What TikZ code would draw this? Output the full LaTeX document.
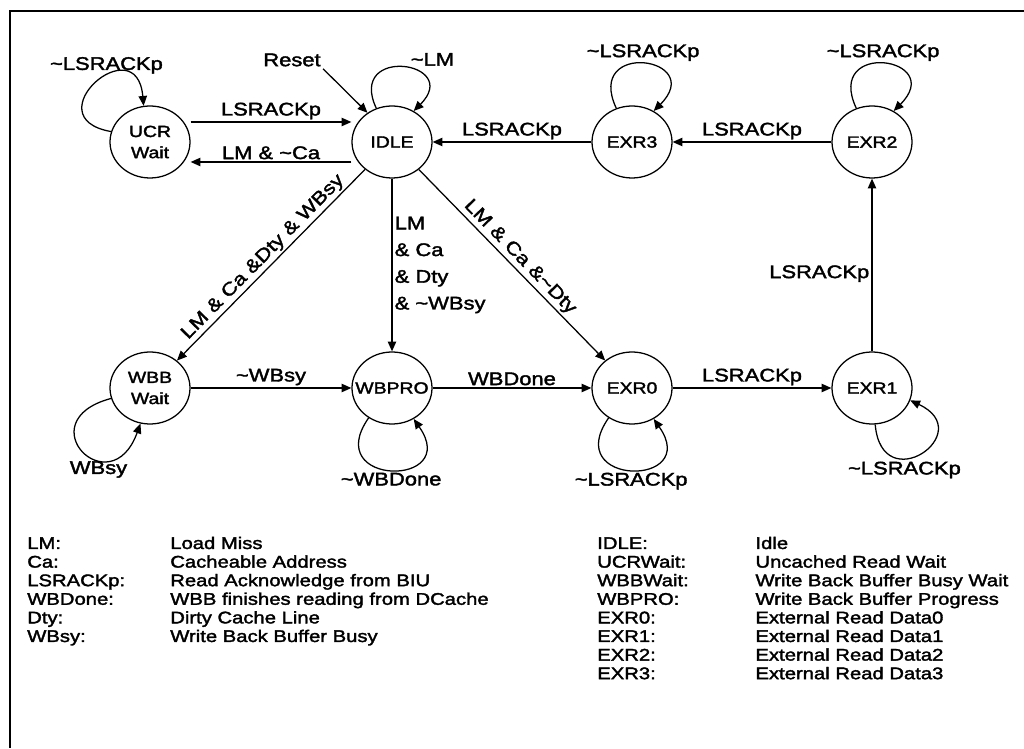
\documentclass[tikz,border=0pt]{standalone}
\usepackage{fontspec}
\setmainfont{Liberation Sans}[FakeStretch=1.2, FakeBold=2]
\usepackage{tikz}
\usetikzlibrary{arrows.meta,positioning,shapes.geometric}
\newcommand{\tld}{\textasciitilde}
\tikzset{
  stnode/.style ={draw, ellipse, line width=0.9pt, minimum width=2.0cm,
                  minimum height=1.8cm, inner xsep=-0.25cm, inner ysep=0pt,
                  align=center, font=\fontsize{11.5}{15}\selectfont},
  elbl/.style   ={font=\fontsize{13}{19}\selectfont, inner sep=1.5pt},
  arr/.style    ={-{Triangle[length=7pt,width=6pt]}, line width=0.9pt},
  keytxt/.style ={anchor=base west, inner sep=0pt,
                  font=\fontsize{12}{14}\selectfont},
}

\begin{document}
\begin{tikzpicture}[node distance=6.0cm, on grid]
  \useasboundingbox (0,0) rectangle (25.6,18.7);
  \draw[line width=1.2pt] (25.6,18.42) -| (0.25,0);
  % states
  \node[stnode] (idle) at (9.8,15.15) {IDLE};
  \node[stnode, left=6.05cm of idle] (ucr) {UCR\\Wait};
  \node[stnode, right=6.0cm of idle] (exr3) {EXR3};
  \node[stnode, right=6.0cm of exr3] (exr2) {EXR2};
  \node[stnode, below=6.15cm of idle] (wbpro) {WBPRO};
  \node[stnode, left=6.05cm of wbpro] (wbb) {WBB\\Wait};
  \node[stnode, right=6.0cm of wbpro] (exr0) {EXR0};
  \node[stnode, right=6.0cm of exr0] (exr1) {EXR1};
  \node[elbl] (reset) at (7.3,17.2) {Reset};
  % transitions
  \draw[arr] (reset.south east) -- (idle.130);
  \draw[arr] ([yshift=0.5cm]ucr.east) -- node[elbl, above] {LSRACKp} ([yshift=0.5cm]idle.west);
  \draw[arr] ([yshift=-0.5cm]idle.west) -- node[elbl, above] {LM \& \tld Ca} ([yshift=-0.5cm]ucr.east);
  \draw[arr] (exr3) -- node[elbl, above] {LSRACKp} (idle);
  \draw[arr] (exr2) -- node[elbl, above] {LSRACKp} (exr3);
  \draw[arr] (exr1) -- node[elbl, left, pos=0.45] {LSRACKp} (exr2);
  \draw[arr] (idle) -- node[elbl, sloped, above] {LM \& Ca \&Dty \& WBsy} (wbb);
  \draw[arr] (idle) -- node[elbl, right, align=left] {LM\\\& Ca\\\& Dty\\\& \tld WBsy} (wbpro);
  \draw[arr] (idle) -- node[elbl, sloped, above] {LM \& Ca \&\tld Dty} (exr0);
  \draw[arr] (wbb) -- node[elbl, above] {\tld WBsy} (wbpro);
  \draw[arr] (wbpro) -- node[elbl, above] {WBDone} (exr0);
  \draw[arr] (exr0) -- node[elbl, above] {LSRACKp} (exr1);
  % self loops
  \draw[arr] (ucr.165) .. controls +(170:2.0cm) and +(95:2.0cm) .. (ucr.100)
    node[elbl, above, pos=0.6] {\tld LSRACKp};
  \draw[arr] (idle.115) .. controls +(115:1.75cm) and +(45:1.75cm) .. (idle.55)
    node[elbl, above right, pos=0.55] {\tld LM};
  \draw[arr] (exr3.115) .. controls +(115:1.9cm) and +(45:1.9cm) .. (exr3.55)
    node[elbl, above, pos=0.5] {\tld LSRACKp};
  \draw[arr] (exr2.115) .. controls +(115:1.9cm) and +(45:1.9cm) .. (exr2.55)
    node[elbl, above, pos=0.5] {\tld LSRACKp};
  \draw[arr] (wbb.195) .. controls +(195:2.2cm) and +(250:2.2cm) .. (wbb.255)
    node[elbl, below, pos=0.65] {WBsy};
  \draw[arr] (wbpro.232) .. controls +(235:2.1cm) and +(305:2.1cm) .. (wbpro.305)
    node[elbl, below, pos=0.5] {\tld WBDone};
  \draw[arr] (exr0.232) .. controls +(235:2.1cm) and +(305:2.1cm) .. (exr0.305)
    node[elbl, below, pos=0.5] {\tld LSRACKp};
  \draw[arr] (exr1.275) .. controls +(275:1.9cm) and +(335:1.9cm) .. (exr1.342)
    node[elbl, below, pos=0.35] {\tld LSRACKp};
  % legend
  \foreach \k/\d [count=\i from 0] in {LM:/Load Miss, Ca:/Cacheable Address,
      LSRACKp:/Read Acknowledge from BIU, WBDone:/WBB finishes reading from DCache,
      Dty:/Dirty Cache Line, WBsy:/Write Back Buffer Busy} {
    \node[keytxt] (lkey\i) at (0.675,{4.975-0.465*\i}) {\k};
    \node[keytxt] (ldef\i) at (4.25,{4.975-0.465*\i}) {\d};
  }
  \foreach \k/\d [count=\i from 0] in {IDLE:/Idle, UCRWait:/Uncached Read Wait,
      WBBWait:/Write Back Buffer Busy Wait, WBPRO:/Write Back Buffer Progress,
      EXR0:/External Read Data0, EXR1:/External Read Data1,
      EXR2:/External Read Data2, EXR3:/External Read Data3} {
    \node[keytxt] (rkey\i) at (14.925,{4.975-0.465*\i}) {\k};
    \node[keytxt] (rdef\i) at (18.88,{4.975-0.465*\i}) {\d};
  }
\end{tikzpicture}
\end{document}
